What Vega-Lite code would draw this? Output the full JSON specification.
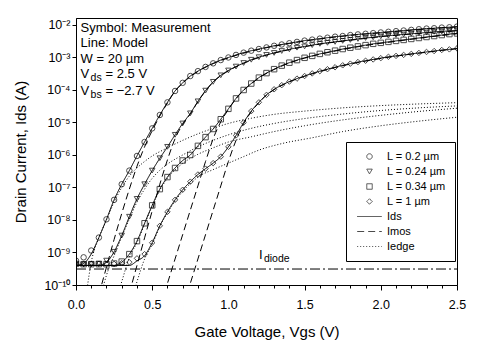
{
  "$schema": "https://vega.github.io/schema/vega-lite/v6.json",
  "autosize": {"type": "none"},
  "padding": {"left": 76, "top": 18, "right": 27, "bottom": 70},
  "width": 381,
  "height": 267,
  "datasets": {
    "meas": [
      {"L":"L = 0.2 µm","k":"Ids","v":0.00,"m":5.6e-10,"i":4.0e-10},
      {"L":"L = 0.2 µm","k":"Ids","v":0.05,"m":7.1e-10,"i":4.6e-10},
      {"L":"L = 0.2 µm","k":"Ids","v":0.10,"m":1.15e-9,"i":9.0e-10},
      {"L":"L = 0.2 µm","k":"Ids","v":0.15,"m":2.88e-9,"i":2.88e-9},
      {"L":"L = 0.2 µm","k":"Ids","v":0.20,"m":1.05e-8,"i":1.05e-8},
      {"L":"L = 0.2 µm","k":"Ids","v":0.25,"m":4.17e-8,"i":4.17e-8},
      {"L":"L = 0.2 µm","k":"Ids","v":0.30,"m":1.26e-7,"i":1.26e-7},
      {"L":"L = 0.2 µm","k":"Ids","v":0.35,"m":3.31e-7,"i":3.31e-7},
      {"L":"L = 0.2 µm","k":"Ids","v":0.40,"m":9.33e-7,"i":9.33e-7},
      {"L":"L = 0.2 µm","k":"Ids","v":0.45,"m":2.51e-6,"i":2.51e-6},
      {"L":"L = 0.2 µm","k":"Ids","v":0.50,"m":6.61e-6,"i":6.61e-6},
      {"L":"L = 0.2 µm","k":"Ids","v":0.55,"m":1.70e-5,"i":1.70e-5},
      {"L":"L = 0.2 µm","k":"Ids","v":0.60,"m":4.17e-5,"i":4.17e-5},
      {"L":"L = 0.2 µm","k":"Ids","v":0.65,"m":9.33e-5,"i":9.33e-5},
      {"L":"L = 0.2 µm","k":"Ids","v":0.70,"m":1.66e-4,"i":1.66e-4},
      {"L":"L = 0.2 µm","k":"Ids","v":0.75,"m":2.69e-4,"i":2.69e-4},
      {"L":"L = 0.2 µm","k":"Ids","v":0.80,"m":3.80e-4,"i":3.80e-4},
      {"L":"L = 0.2 µm","k":"Ids","v":0.85,"m":5.13e-4,"i":5.13e-4},
      {"L":"L = 0.2 µm","k":"Ids","v":0.90,"m":6.61e-4,"i":6.61e-4},
      {"L":"L = 0.2 µm","k":"Ids","v":0.95,"m":8.32e-4,"i":8.32e-4},
      {"L":"L = 0.2 µm","k":"Ids","v":1.00,"m":1.00e-3,"i":1.00e-3},
      {"L":"L = 0.2 µm","k":"Ids","v":1.05,"m":1.20e-3,"i":1.20e-3},
      {"L":"L = 0.2 µm","k":"Ids","v":1.10,"m":1.41e-3,"i":1.41e-3},
      {"L":"L = 0.2 µm","k":"Ids","v":1.15,"m":1.62e-3,"i":1.62e-3},
      {"L":"L = 0.2 µm","k":"Ids","v":1.20,"m":1.82e-3,"i":1.82e-3},
      {"L":"L = 0.2 µm","k":"Ids","v":1.25,"m":2.04e-3,"i":2.04e-3},
      {"L":"L = 0.2 µm","k":"Ids","v":1.30,"m":2.29e-3,"i":2.29e-3},
      {"L":"L = 0.2 µm","k":"Ids","v":1.35,"m":2.51e-3,"i":2.51e-3},
      {"L":"L = 0.2 µm","k":"Ids","v":1.40,"m":2.75e-3,"i":2.75e-3},
      {"L":"L = 0.2 µm","k":"Ids","v":1.45,"m":3.02e-3,"i":3.02e-3},
      {"L":"L = 0.2 µm","k":"Ids","v":1.50,"m":3.31e-3,"i":3.31e-3},
      {"L":"L = 0.2 µm","k":"Ids","v":1.55,"m":3.55e-3,"i":3.55e-3},
      {"L":"L = 0.2 µm","k":"Ids","v":1.60,"m":3.80e-3,"i":3.80e-3},
      {"L":"L = 0.2 µm","k":"Ids","v":1.65,"m":4.07e-3,"i":4.07e-3},
      {"L":"L = 0.2 µm","k":"Ids","v":1.70,"m":4.37e-3,"i":4.37e-3},
      {"L":"L = 0.2 µm","k":"Ids","v":1.75,"m":4.57e-3,"i":4.57e-3},
      {"L":"L = 0.2 µm","k":"Ids","v":1.80,"m":4.90e-3,"i":4.90e-3},
      {"L":"L = 0.2 µm","k":"Ids","v":1.85,"m":5.13e-3,"i":5.13e-3},
      {"L":"L = 0.2 µm","k":"Ids","v":1.90,"m":5.37e-3,"i":5.37e-3},
      {"L":"L = 0.2 µm","k":"Ids","v":1.95,"m":5.62e-3,"i":5.62e-3},
      {"L":"L = 0.2 µm","k":"Ids","v":2.00,"m":5.89e-3,"i":5.89e-3},
      {"L":"L = 0.2 µm","k":"Ids","v":2.05,"m":6.17e-3,"i":6.17e-3},
      {"L":"L = 0.2 µm","k":"Ids","v":2.10,"m":6.46e-3,"i":6.46e-3},
      {"L":"L = 0.2 µm","k":"Ids","v":2.15,"m":6.76e-3,"i":6.76e-3},
      {"L":"L = 0.2 µm","k":"Ids","v":2.20,"m":7.08e-3,"i":7.08e-3},
      {"L":"L = 0.2 µm","k":"Ids","v":2.25,"m":7.41e-3,"i":7.41e-3},
      {"L":"L = 0.2 µm","k":"Ids","v":2.30,"m":7.76e-3,"i":7.76e-3},
      {"L":"L = 0.2 µm","k":"Ids","v":2.35,"m":7.94e-3,"i":7.94e-3},
      {"L":"L = 0.2 µm","k":"Ids","v":2.40,"m":8.32e-3,"i":8.32e-3},
      {"L":"L = 0.2 µm","k":"Ids","v":2.45,"m":8.51e-3,"i":8.51e-3},
      {"L":"L = 0.2 µm","k":"Ids","v":2.50,"m":8.91e-3,"i":8.91e-3},

      {"L":"L = 0.24 µm","k":"Ids","v":0.00,"m":4.37e-10,"i":4.0e-10},
      {"L":"L = 0.24 µm","k":"Ids","v":0.05,"m":4.27e-10,"i":4.0e-10},
      {"L":"L = 0.24 µm","k":"Ids","v":0.10,"m":4.37e-10,"i":4.0e-10},
      {"L":"L = 0.24 µm","k":"Ids","v":0.15,"m":4.57e-10,"i":4.0e-10},
      {"L":"L = 0.24 µm","k":"Ids","v":0.20,"m":5.62e-10,"i":5.0e-10},
      {"L":"L = 0.24 µm","k":"Ids","v":0.25,"m":1.05e-9,"i":1.05e-9},
      {"L":"L = 0.24 µm","k":"Ids","v":0.30,"m":3.31e-9,"i":3.31e-9},
      {"L":"L = 0.24 µm","k":"Ids","v":0.35,"m":1.26e-8,"i":1.26e-8},
      {"L":"L = 0.24 µm","k":"Ids","v":0.40,"m":4.47e-8,"i":4.47e-8},
      {"L":"L = 0.24 µm","k":"Ids","v":0.45,"m":1.26e-7,"i":1.26e-7},
      {"L":"L = 0.24 µm","k":"Ids","v":0.50,"m":3.31e-7,"i":3.31e-7},
      {"L":"L = 0.24 µm","k":"Ids","v":0.55,"m":7.94e-7,"i":7.94e-7},
      {"L":"L = 0.24 µm","k":"Ids","v":0.60,"m":1.78e-6,"i":1.78e-6},
      {"L":"L = 0.24 µm","k":"Ids","v":0.65,"m":4.17e-6,"i":4.17e-6},
      {"L":"L = 0.24 µm","k":"Ids","v":0.70,"m":9.33e-6,"i":9.33e-6},
      {"L":"L = 0.24 µm","k":"Ids","v":0.75,"m":1.91e-5,"i":1.91e-5},
      {"L":"L = 0.24 µm","k":"Ids","v":0.80,"m":4.47e-5,"i":4.47e-5},
      {"L":"L = 0.24 µm","k":"Ids","v":0.85,"m":9.55e-5,"i":9.55e-5},
      {"L":"L = 0.24 µm","k":"Ids","v":0.90,"m":1.78e-4,"i":1.78e-4},
      {"L":"L = 0.24 µm","k":"Ids","v":0.95,"m":2.82e-4,"i":2.82e-4},
      {"L":"L = 0.24 µm","k":"Ids","v":1.00,"m":3.98e-4,"i":3.98e-4},
      {"L":"L = 0.24 µm","k":"Ids","v":1.05,"m":5.25e-4,"i":5.25e-4},
      {"L":"L = 0.24 µm","k":"Ids","v":1.10,"m":6.76e-4,"i":6.76e-4},
      {"L":"L = 0.24 µm","k":"Ids","v":1.15,"m":8.51e-4,"i":8.51e-4},
      {"L":"L = 0.24 µm","k":"Ids","v":1.20,"m":1.02e-3,"i":1.02e-3},
      {"L":"L = 0.24 µm","k":"Ids","v":1.25,"m":1.20e-3,"i":1.20e-3},
      {"L":"L = 0.24 µm","k":"Ids","v":1.30,"m":1.38e-3,"i":1.38e-3},
      {"L":"L = 0.24 µm","k":"Ids","v":1.35,"m":1.58e-3,"i":1.58e-3},
      {"L":"L = 0.24 µm","k":"Ids","v":1.40,"m":1.78e-3,"i":1.78e-3},
      {"L":"L = 0.24 µm","k":"Ids","v":1.45,"m":2.00e-3,"i":2.00e-3},
      {"L":"L = 0.24 µm","k":"Ids","v":1.50,"m":2.19e-3,"i":2.19e-3},
      {"L":"L = 0.24 µm","k":"Ids","v":1.55,"m":2.40e-3,"i":2.40e-3},
      {"L":"L = 0.24 µm","k":"Ids","v":1.60,"m":2.63e-3,"i":2.63e-3},
      {"L":"L = 0.24 µm","k":"Ids","v":1.65,"m":2.82e-3,"i":2.82e-3},
      {"L":"L = 0.24 µm","k":"Ids","v":1.70,"m":3.02e-3,"i":3.02e-3},
      {"L":"L = 0.24 µm","k":"Ids","v":1.75,"m":3.24e-3,"i":3.24e-3},
      {"L":"L = 0.24 µm","k":"Ids","v":1.80,"m":3.47e-3,"i":3.47e-3},
      {"L":"L = 0.24 µm","k":"Ids","v":1.85,"m":3.72e-3,"i":3.72e-3},
      {"L":"L = 0.24 µm","k":"Ids","v":1.90,"m":3.98e-3,"i":3.98e-3},
      {"L":"L = 0.24 µm","k":"Ids","v":1.95,"m":4.17e-3,"i":4.17e-3},
      {"L":"L = 0.24 µm","k":"Ids","v":2.00,"m":4.47e-3,"i":4.47e-3},
      {"L":"L = 0.24 µm","k":"Ids","v":2.05,"m":4.68e-3,"i":4.68e-3},
      {"L":"L = 0.24 µm","k":"Ids","v":2.10,"m":4.90e-3,"i":4.90e-3},
      {"L":"L = 0.24 µm","k":"Ids","v":2.15,"m":5.13e-3,"i":5.13e-3},
      {"L":"L = 0.24 µm","k":"Ids","v":2.20,"m":5.37e-3,"i":5.37e-3},
      {"L":"L = 0.24 µm","k":"Ids","v":2.25,"m":5.62e-3,"i":5.62e-3},
      {"L":"L = 0.24 µm","k":"Ids","v":2.30,"m":5.89e-3,"i":5.89e-3},
      {"L":"L = 0.24 µm","k":"Ids","v":2.35,"m":6.17e-3,"i":6.17e-3},
      {"L":"L = 0.24 µm","k":"Ids","v":2.40,"m":6.31e-3,"i":6.31e-3},
      {"L":"L = 0.24 µm","k":"Ids","v":2.45,"m":6.61e-3,"i":6.61e-3},
      {"L":"L = 0.24 µm","k":"Ids","v":2.50,"m":6.76e-3,"i":6.76e-3},

      {"L":"L = 0.34 µm","k":"Ids","v":0.00,"m":4.47e-10,"i":4.0e-10},
      {"L":"L = 0.34 µm","k":"Ids","v":0.05,"m":4.37e-10,"i":4.0e-10},
      {"L":"L = 0.34 µm","k":"Ids","v":0.10,"m":4.37e-10,"i":4.0e-10},
      {"L":"L = 0.34 µm","k":"Ids","v":0.15,"m":4.37e-10,"i":4.0e-10},
      {"L":"L = 0.34 µm","k":"Ids","v":0.20,"m":4.37e-10,"i":4.0e-10},
      {"L":"L = 0.34 µm","k":"Ids","v":0.25,"m":4.57e-10,"i":4.0e-10},
      {"L":"L = 0.34 µm","k":"Ids","v":0.30,"m":5.25e-10,"i":5.0e-10},
      {"L":"L = 0.34 µm","k":"Ids","v":0.35,"m":8.91e-10,"i":8.91e-10},
      {"L":"L = 0.34 µm","k":"Ids","v":0.40,"m":2.24e-9,"i":2.24e-9},
      {"L":"L = 0.34 µm","k":"Ids","v":0.45,"m":7.94e-9,"i":7.94e-9},
      {"L":"L = 0.34 µm","k":"Ids","v":0.50,"m":2.82e-8,"i":2.82e-8},
      {"L":"L = 0.34 µm","k":"Ids","v":0.55,"m":8.91e-8,"i":8.91e-8},
      {"L":"L = 0.34 µm","k":"Ids","v":0.60,"m":2.09e-7,"i":2.09e-7},
      {"L":"L = 0.34 µm","k":"Ids","v":0.65,"m":3.98e-7,"i":3.98e-7},
      {"L":"L = 0.34 µm","k":"Ids","v":0.70,"m":6.76e-7,"i":6.76e-7},
      {"L":"L = 0.34 µm","k":"Ids","v":0.75,"m":1.00e-6,"i":1.00e-6},
      {"L":"L = 0.34 µm","k":"Ids","v":0.80,"m":1.91e-6,"i":1.91e-6},
      {"L":"L = 0.34 µm","k":"Ids","v":0.85,"m":3.55e-6,"i":3.55e-6},
      {"L":"L = 0.34 µm","k":"Ids","v":0.90,"m":6.31e-6,"i":6.31e-6},
      {"L":"L = 0.34 µm","k":"Ids","v":0.95,"m":1.26e-5,"i":1.26e-5},
      {"L":"L = 0.34 µm","k":"Ids","v":1.00,"m":2.63e-5,"i":2.63e-5},
      {"L":"L = 0.34 µm","k":"Ids","v":1.05,"m":5.50e-5,"i":5.50e-5},
      {"L":"L = 0.34 µm","k":"Ids","v":1.10,"m":1.00e-4,"i":1.00e-4},
      {"L":"L = 0.34 µm","k":"Ids","v":1.15,"m":1.58e-4,"i":1.58e-4},
      {"L":"L = 0.34 µm","k":"Ids","v":1.20,"m":2.40e-4,"i":2.40e-4},
      {"L":"L = 0.34 µm","k":"Ids","v":1.25,"m":3.31e-4,"i":3.31e-4},
      {"L":"L = 0.34 µm","k":"Ids","v":1.30,"m":4.37e-4,"i":4.37e-4},
      {"L":"L = 0.34 µm","k":"Ids","v":1.35,"m":5.62e-4,"i":5.62e-4},
      {"L":"L = 0.34 µm","k":"Ids","v":1.40,"m":6.92e-4,"i":6.92e-4},
      {"L":"L = 0.34 µm","k":"Ids","v":1.45,"m":8.32e-4,"i":8.32e-4},
      {"L":"L = 0.34 µm","k":"Ids","v":1.50,"m":9.77e-4,"i":9.77e-4},
      {"L":"L = 0.34 µm","k":"Ids","v":1.55,"m":1.12e-3,"i":1.12e-3},
      {"L":"L = 0.34 µm","k":"Ids","v":1.60,"m":1.29e-3,"i":1.29e-3},
      {"L":"L = 0.34 µm","k":"Ids","v":1.65,"m":1.45e-3,"i":1.45e-3},
      {"L":"L = 0.34 µm","k":"Ids","v":1.70,"m":1.62e-3,"i":1.62e-3},
      {"L":"L = 0.34 µm","k":"Ids","v":1.75,"m":1.82e-3,"i":1.82e-3},
      {"L":"L = 0.34 µm","k":"Ids","v":1.80,"m":2.00e-3,"i":2.00e-3},
      {"L":"L = 0.34 µm","k":"Ids","v":1.85,"m":2.19e-3,"i":2.19e-3},
      {"L":"L = 0.34 µm","k":"Ids","v":1.90,"m":2.40e-3,"i":2.40e-3},
      {"L":"L = 0.34 µm","k":"Ids","v":1.95,"m":2.63e-3,"i":2.63e-3},
      {"L":"L = 0.34 µm","k":"Ids","v":2.00,"m":2.82e-3,"i":2.82e-3},
      {"L":"L = 0.34 µm","k":"Ids","v":2.05,"m":3.02e-3,"i":3.02e-3},
      {"L":"L = 0.34 µm","k":"Ids","v":2.10,"m":3.24e-3,"i":3.24e-3},
      {"L":"L = 0.34 µm","k":"Ids","v":2.15,"m":3.47e-3,"i":3.47e-3},
      {"L":"L = 0.34 µm","k":"Ids","v":2.20,"m":3.72e-3,"i":3.72e-3},
      {"L":"L = 0.34 µm","k":"Ids","v":2.25,"m":3.98e-3,"i":3.98e-3},
      {"L":"L = 0.34 µm","k":"Ids","v":2.30,"m":4.27e-3,"i":4.27e-3},
      {"L":"L = 0.34 µm","k":"Ids","v":2.35,"m":4.57e-3,"i":4.57e-3},
      {"L":"L = 0.34 µm","k":"Ids","v":2.40,"m":4.90e-3,"i":4.90e-3},
      {"L":"L = 0.34 µm","k":"Ids","v":2.45,"m":5.25e-3,"i":5.25e-3},
      {"L":"L = 0.34 µm","k":"Ids","v":2.50,"m":5.50e-3,"i":5.50e-3},

      {"L":"L = 1 µm","k":"Ids","v":0.00,"m":4.47e-10,"i":4.0e-10},
      {"L":"L = 1 µm","k":"Ids","v":0.05,"m":4.47e-10,"i":4.0e-10},
      {"L":"L = 1 µm","k":"Ids","v":0.10,"m":4.47e-10,"i":4.0e-10},
      {"L":"L = 1 µm","k":"Ids","v":0.15,"m":4.47e-10,"i":4.0e-10},
      {"L":"L = 1 µm","k":"Ids","v":0.20,"m":4.47e-10,"i":4.0e-10},
      {"L":"L = 1 µm","k":"Ids","v":0.25,"m":4.47e-10,"i":4.0e-10},
      {"L":"L = 1 µm","k":"Ids","v":0.30,"m":4.68e-10,"i":4.0e-10},
      {"L":"L = 1 µm","k":"Ids","v":0.35,"m":5.01e-10,"i":4.0e-10},
      {"L":"L = 1 µm","k":"Ids","v":0.40,"m":6.61e-10,"i":5.5e-10},
      {"L":"L = 1 µm","k":"Ids","v":0.45,"m":8.91e-10,"i":8.0e-10},
      {"L":"L = 1 µm","k":"Ids","v":0.50,"m":2.00e-9,"i":2.00e-9},
      {"L":"L = 1 µm","k":"Ids","v":0.55,"m":6.61e-9,"i":6.61e-9},
      {"L":"L = 1 µm","k":"Ids","v":0.60,"m":1.78e-8,"i":1.78e-8},
      {"L":"L = 1 µm","k":"Ids","v":0.65,"m":4.17e-8,"i":4.17e-8},
      {"L":"L = 1 µm","k":"Ids","v":0.70,"m":8.51e-8,"i":8.51e-8},
      {"L":"L = 1 µm","k":"Ids","v":0.75,"m":1.51e-7,"i":1.51e-7},
      {"L":"L = 1 µm","k":"Ids","v":0.80,"m":2.51e-7,"i":2.51e-7},
      {"L":"L = 1 µm","k":"Ids","v":0.85,"m":3.80e-7,"i":3.80e-7},
      {"L":"L = 1 µm","k":"Ids","v":0.90,"m":5.62e-7,"i":5.62e-7},
      {"L":"L = 1 µm","k":"Ids","v":0.95,"m":8.91e-7,"i":8.91e-7},
      {"L":"L = 1 µm","k":"Ids","v":1.00,"m":1.78e-6,"i":1.78e-6},
      {"L":"L = 1 µm","k":"Ids","v":1.05,"m":3.98e-6,"i":3.98e-6},
      {"L":"L = 1 µm","k":"Ids","v":1.10,"m":1.00e-5,"i":1.00e-5},
      {"L":"L = 1 µm","k":"Ids","v":1.15,"m":2.24e-5,"i":2.24e-5},
      {"L":"L = 1 µm","k":"Ids","v":1.20,"m":4.17e-5,"i":4.17e-5},
      {"L":"L = 1 µm","k":"Ids","v":1.25,"m":7.08e-5,"i":7.08e-5},
      {"L":"L = 1 µm","k":"Ids","v":1.30,"m":1.05e-4,"i":1.05e-4},
      {"L":"L = 1 µm","k":"Ids","v":1.35,"m":1.41e-4,"i":1.41e-4},
      {"L":"L = 1 µm","k":"Ids","v":1.40,"m":1.82e-4,"i":1.82e-4},
      {"L":"L = 1 µm","k":"Ids","v":1.45,"m":2.24e-4,"i":2.24e-4},
      {"L":"L = 1 µm","k":"Ids","v":1.50,"m":2.69e-4,"i":2.69e-4},
      {"L":"L = 1 µm","k":"Ids","v":1.55,"m":3.24e-4,"i":3.24e-4},
      {"L":"L = 1 µm","k":"Ids","v":1.60,"m":3.80e-4,"i":3.80e-4},
      {"L":"L = 1 µm","k":"Ids","v":1.65,"m":4.37e-4,"i":4.37e-4},
      {"L":"L = 1 µm","k":"Ids","v":1.70,"m":5.01e-4,"i":5.01e-4},
      {"L":"L = 1 µm","k":"Ids","v":1.75,"m":5.75e-4,"i":5.75e-4},
      {"L":"L = 1 µm","k":"Ids","v":1.80,"m":6.46e-4,"i":6.46e-4},
      {"L":"L = 1 µm","k":"Ids","v":1.85,"m":7.24e-4,"i":7.24e-4},
      {"L":"L = 1 µm","k":"Ids","v":1.90,"m":7.94e-4,"i":7.94e-4},
      {"L":"L = 1 µm","k":"Ids","v":1.95,"m":8.71e-4,"i":8.71e-4},
      {"L":"L = 1 µm","k":"Ids","v":2.00,"m":9.55e-4,"i":9.55e-4},
      {"L":"L = 1 µm","k":"Ids","v":2.05,"m":1.05e-3,"i":1.05e-3},
      {"L":"L = 1 µm","k":"Ids","v":2.10,"m":1.12e-3,"i":1.12e-3},
      {"L":"L = 1 µm","k":"Ids","v":2.15,"m":1.20e-3,"i":1.20e-3},
      {"L":"L = 1 µm","k":"Ids","v":2.20,"m":1.29e-3,"i":1.29e-3},
      {"L":"L = 1 µm","k":"Ids","v":2.25,"m":1.38e-3,"i":1.38e-3},
      {"L":"L = 1 µm","k":"Ids","v":2.30,"m":1.48e-3,"i":1.48e-3},
      {"L":"L = 1 µm","k":"Ids","v":2.35,"m":1.58e-3,"i":1.58e-3},
      {"L":"L = 1 µm","k":"Ids","v":2.40,"m":1.70e-3,"i":1.70e-3},
      {"L":"L = 1 µm","k":"Ids","v":2.45,"m":1.78e-3,"i":1.78e-3},
      {"L":"L = 1 µm","k":"Ids","v":2.50,"m":1.91e-3,"i":1.91e-3}
    ],
    "curves": [
      {"L":"0.2","k":"Imos","v":0.15,"i":5.0e-11},
      {"L":"0.2","k":"Imos","v":0.20,"i":3.55e-10},
      {"L":"0.2","k":"Imos","v":0.25,"i":2.51e-9},
      {"L":"0.2","k":"Imos","v":0.30,"i":1.58e-8},
      {"L":"0.2","k":"Imos","v":0.35,"i":8.91e-8},
      {"L":"0.2","k":"Imos","v":0.40,"i":4.47e-7},
      {"L":"0.2","k":"Imos","v":0.45,"i":1.78e-6},
      {"L":"0.2","k":"Imos","v":0.50,"i":5.62e-6},
      {"L":"0.2","k":"Imos","v":0.55,"i":1.58e-5},
      {"L":"0.2","k":"Imos","v":0.60,"i":3.98e-5},
      {"L":"0.2","k":"Imos","v":0.65,"i":9.12e-5},
      {"L":"0.2","k":"Imos","v":0.70,"i":1.62e-4},
      {"L":"0.2","k":"Imos","v":0.80,"i":3.72e-4},
      {"L":"0.2","k":"Imos","v":0.90,"i":6.46e-4},
      {"L":"0.2","k":"Imos","v":1.00,"i":9.77e-4},
      {"L":"0.2","k":"Imos","v":1.20,"i":1.78e-3},
      {"L":"0.2","k":"Imos","v":1.40,"i":2.69e-3},
      {"L":"0.2","k":"Imos","v":1.60,"i":3.72e-3},
      {"L":"0.2","k":"Imos","v":1.80,"i":4.79e-3},
      {"L":"0.2","k":"Imos","v":2.00,"i":5.75e-3},
      {"L":"0.2","k":"Imos","v":2.20,"i":6.92e-3},
      {"L":"0.2","k":"Imos","v":2.50,"i":8.71e-3},

      {"L":"0.24","k":"Imos","v":0.35,"i":5.6e-11},
      {"L":"0.24","k":"Imos","v":0.40,"i":3.98e-10},
      {"L":"0.24","k":"Imos","v":0.45,"i":2.82e-9},
      {"L":"0.24","k":"Imos","v":0.50,"i":1.91e-8},
      {"L":"0.24","k":"Imos","v":0.55,"i":1.26e-7},
      {"L":"0.24","k":"Imos","v":0.60,"i":7.08e-7},
      {"L":"0.24","k":"Imos","v":0.65,"i":3.16e-6},
      {"L":"0.24","k":"Imos","v":0.70,"i":8.71e-6},
      {"L":"0.24","k":"Imos","v":0.75,"i":1.82e-5},
      {"L":"0.24","k":"Imos","v":0.80,"i":4.37e-5},
      {"L":"0.24","k":"Imos","v":0.85,"i":9.33e-5},
      {"L":"0.24","k":"Imos","v":0.90,"i":1.74e-4},
      {"L":"0.24","k":"Imos","v":1.00,"i":3.89e-4},
      {"L":"0.24","k":"Imos","v":1.10,"i":6.61e-4},
      {"L":"0.24","k":"Imos","v":1.20,"i":1.0e-3},
      {"L":"0.24","k":"Imos","v":1.40,"i":1.74e-3},
      {"L":"0.24","k":"Imos","v":1.60,"i":2.57e-3},
      {"L":"0.24","k":"Imos","v":1.80,"i":3.39e-3},
      {"L":"0.24","k":"Imos","v":2.00,"i":4.37e-3},
      {"L":"0.24","k":"Imos","v":2.20,"i":5.25e-3},
      {"L":"0.24","k":"Imos","v":2.50,"i":6.61e-3},

      {"L":"0.34","k":"Imos","v":0.58,"i":5.6e-11},
      {"L":"0.34","k":"Imos","v":0.60,"i":1.12e-10},
      {"L":"0.34","k":"Imos","v":0.65,"i":6.31e-10},
      {"L":"0.34","k":"Imos","v":0.70,"i":3.55e-9},
      {"L":"0.34","k":"Imos","v":0.75,"i":2.0e-8},
      {"L":"0.34","k":"Imos","v":0.80,"i":1.12e-7},
      {"L":"0.34","k":"Imos","v":0.85,"i":6.31e-7},
      {"L":"0.34","k":"Imos","v":0.90,"i":3.16e-6},
      {"L":"0.34","k":"Imos","v":0.95,"i":1.05e-5},
      {"L":"0.34","k":"Imos","v":1.00,"i":2.51e-5},
      {"L":"0.34","k":"Imos","v":1.05,"i":5.37e-5},
      {"L":"0.34","k":"Imos","v":1.10,"i":9.77e-5},
      {"L":"0.34","k":"Imos","v":1.15,"i":1.55e-4},
      {"L":"0.34","k":"Imos","v":1.20,"i":2.34e-4},
      {"L":"0.34","k":"Imos","v":1.30,"i":4.27e-4},
      {"L":"0.34","k":"Imos","v":1.40,"i":6.76e-4},
      {"L":"0.34","k":"Imos","v":1.50,"i":9.55e-4},
      {"L":"0.34","k":"Imos","v":1.70,"i":1.58e-3},
      {"L":"0.34","k":"Imos","v":1.90,"i":2.34e-3},
      {"L":"0.34","k":"Imos","v":2.10,"i":3.16e-3},
      {"L":"0.34","k":"Imos","v":2.30,"i":4.17e-3},
      {"L":"0.34","k":"Imos","v":2.50,"i":5.37e-3},

      {"L":"1","k":"Imos","v":0.73,"i":5.6e-11},
      {"L":"1","k":"Imos","v":0.75,"i":1.12e-10},
      {"L":"1","k":"Imos","v":0.80,"i":6.31e-10},
      {"L":"1","k":"Imos","v":0.85,"i":3.55e-9},
      {"L":"1","k":"Imos","v":0.90,"i":2.0e-8},
      {"L":"1","k":"Imos","v":0.95,"i":1.12e-7},
      {"L":"1","k":"Imos","v":1.00,"i":6.31e-7},
      {"L":"1","k":"Imos","v":1.05,"i":2.82e-6},
      {"L":"1","k":"Imos","v":1.10,"i":9.12e-6},
      {"L":"1","k":"Imos","v":1.15,"i":2.14e-5},
      {"L":"1","k":"Imos","v":1.20,"i":4.07e-5},
      {"L":"1","k":"Imos","v":1.25,"i":6.92e-5},
      {"L":"1","k":"Imos","v":1.30,"i":1.02e-4},
      {"L":"1","k":"Imos","v":1.40,"i":1.78e-4},
      {"L":"1","k":"Imos","v":1.50,"i":2.63e-4},
      {"L":"1","k":"Imos","v":1.70,"i":4.90e-4},
      {"L":"1","k":"Imos","v":1.90,"i":7.76e-4},
      {"L":"1","k":"Imos","v":2.10,"i":1.10e-3},
      {"L":"1","k":"Imos","v":2.30,"i":1.45e-3},
      {"L":"1","k":"Imos","v":2.50,"i":1.86e-3},

      {"L":"0.2","k":"Iedge","v":0.07,"i":6.3e-11},
      {"L":"0.2","k":"Iedge","v":0.10,"i":5.0e-10},
      {"L":"0.2","k":"Iedge","v":0.15,"i":2.82e-9},
      {"L":"0.2","k":"Iedge","v":0.20,"i":1.0e-8},
      {"L":"0.2","k":"Iedge","v":0.25,"i":3.55e-8},
      {"L":"0.2","k":"Iedge","v":0.30,"i":1.0e-7},
      {"L":"0.2","k":"Iedge","v":0.35,"i":2.24e-7},
      {"L":"0.2","k":"Iedge","v":0.40,"i":3.98e-7},
      {"L":"0.2","k":"Iedge","v":0.45,"i":6.31e-7},
      {"L":"0.2","k":"Iedge","v":0.50,"i":9.33e-7},
      {"L":"0.2","k":"Iedge","v":0.60,"i":1.66e-6},
      {"L":"0.2","k":"Iedge","v":0.70,"i":2.82e-6},
      {"L":"0.2","k":"Iedge","v":0.80,"i":4.47e-6},
      {"L":"0.2","k":"Iedge","v":0.90,"i":6.61e-6},
      {"L":"0.2","k":"Iedge","v":1.00,"i":9.33e-6},
      {"L":"0.2","k":"Iedge","v":1.15,"i":1.35e-5},
      {"L":"0.2","k":"Iedge","v":1.30,"i":1.78e-5},
      {"L":"0.2","k":"Iedge","v":1.50,"i":2.24e-5},
      {"L":"0.2","k":"Iedge","v":1.75,"i":2.82e-5},
      {"L":"0.2","k":"Iedge","v":2.00,"i":3.31e-5},
      {"L":"0.2","k":"Iedge","v":2.25,"i":3.72e-5},
      {"L":"0.2","k":"Iedge","v":2.50,"i":4.07e-5},

      {"L":"0.24","k":"Iedge","v":0.17,"i":6.3e-11},
      {"L":"0.24","k":"Iedge","v":0.20,"i":2.0e-10},
      {"L":"0.24","k":"Iedge","v":0.25,"i":7.94e-10},
      {"L":"0.24","k":"Iedge","v":0.30,"i":3.02e-9},
      {"L":"0.24","k":"Iedge","v":0.35,"i":1.07e-8},
      {"L":"0.24","k":"Iedge","v":0.40,"i":3.55e-8},
      {"L":"0.24","k":"Iedge","v":0.45,"i":8.91e-8},
      {"L":"0.24","k":"Iedge","v":0.50,"i":1.91e-7},
      {"L":"0.24","k":"Iedge","v":0.55,"i":3.39e-7},
      {"L":"0.24","k":"Iedge","v":0.60,"i":5.25e-7},
      {"L":"0.24","k":"Iedge","v":0.70,"i":1.0e-6},
      {"L":"0.24","k":"Iedge","v":0.80,"i":1.78e-6},
      {"L":"0.24","k":"Iedge","v":0.90,"i":2.82e-6},
      {"L":"0.24","k":"Iedge","v":1.00,"i":4.17e-6},
      {"L":"0.24","k":"Iedge","v":1.15,"i":6.61e-6},
      {"L":"0.24","k":"Iedge","v":1.30,"i":9.33e-6},
      {"L":"0.24","k":"Iedge","v":1.50,"i":1.32e-5},
      {"L":"0.24","k":"Iedge","v":1.75,"i":1.82e-5},
      {"L":"0.24","k":"Iedge","v":2.00,"i":2.34e-5},
      {"L":"0.24","k":"Iedge","v":2.25,"i":2.82e-5},
      {"L":"0.24","k":"Iedge","v":2.50,"i":3.24e-5},

      {"L":"0.34","k":"Iedge","v":0.28,"i":6.3e-11},
      {"L":"0.34","k":"Iedge","v":0.30,"i":1.26e-10},
      {"L":"0.34","k":"Iedge","v":0.35,"i":7.08e-10},
      {"L":"0.34","k":"Iedge","v":0.40,"i":2.0e-9},
      {"L":"0.34","k":"Iedge","v":0.45,"i":7.41e-9},
      {"L":"0.34","k":"Iedge","v":0.50,"i":2.69e-8},
      {"L":"0.34","k":"Iedge","v":0.55,"i":8.32e-8},
      {"L":"0.34","k":"Iedge","v":0.60,"i":1.91e-7},
      {"L":"0.34","k":"Iedge","v":0.65,"i":3.47e-7},
      {"L":"0.34","k":"Iedge","v":0.70,"i":5.5e-7},
      {"L":"0.34","k":"Iedge","v":0.80,"i":1.05e-6},
      {"L":"0.34","k":"Iedge","v":0.90,"i":1.66e-6},
      {"L":"0.34","k":"Iedge","v":1.00,"i":2.51e-6},
      {"L":"0.34","k":"Iedge","v":1.15,"i":3.63e-6},
      {"L":"0.34","k":"Iedge","v":1.30,"i":5.25e-6},
      {"L":"0.34","k":"Iedge","v":1.50,"i":7.94e-6},
      {"L":"0.34","k":"Iedge","v":1.75,"i":1.20e-5},
      {"L":"0.34","k":"Iedge","v":2.00,"i":1.66e-5},
      {"L":"0.34","k":"Iedge","v":2.25,"i":2.19e-5},
      {"L":"0.34","k":"Iedge","v":2.50,"i":2.75e-5},

      {"L":"1","k":"Iedge","v":0.38,"i":6.3e-11},
      {"L":"1","k":"Iedge","v":0.40,"i":1.26e-10},
      {"L":"1","k":"Iedge","v":0.45,"i":6.31e-10},
      {"L":"1","k":"Iedge","v":0.50,"i":1.78e-9},
      {"L":"1","k":"Iedge","v":0.55,"i":6.31e-9},
      {"L":"1","k":"Iedge","v":0.60,"i":1.66e-8},
      {"L":"1","k":"Iedge","v":0.65,"i":3.80e-8},
      {"L":"1","k":"Iedge","v":0.70,"i":7.59e-8},
      {"L":"1","k":"Iedge","v":0.75,"i":1.32e-7},
      {"L":"1","k":"Iedge","v":0.80,"i":2.09e-7},
      {"L":"1","k":"Iedge","v":0.90,"i":3.55e-7},
      {"L":"1","k":"Iedge","v":1.00,"i":5.62e-7},
      {"L":"1","k":"Iedge","v":1.10,"i":8.91e-7},
      {"L":"1","k":"Iedge","v":1.20,"i":1.41e-6},
      {"L":"1","k":"Iedge","v":1.35,"i":2.24e-6},
      {"L":"1","k":"Iedge","v":1.55,"i":3.39e-6},
      {"L":"1","k":"Iedge","v":1.75,"i":5.25e-6},
      {"L":"1","k":"Iedge","v":2.00,"i":7.94e-6},
      {"L":"1","k":"Iedge","v":2.25,"i":1.10e-5},
      {"L":"1","k":"Iedge","v":2.50,"i":1.45e-5}
    ],
    "diode": [
      {"v":0.0,"i":3.1e-10},
      {"v":2.5,"i":3.1e-10}
    ],
    "notes": [
      {"t":"Symbol: Measurement","p":"main","v":0.03,"i":7.9e-3},
      {"t":"Line: Model","p":"main","v":0.03,"i":2.75e-3},
      {"t":"W = 20 µm","p":"main","v":0.03,"i":8.9e-4},
      {"t":"V","p":"main","v":0.03,"i":3.0e-4},
      {"t":"ds","p":"sub","v":0.03,"i":3.0e-4},
      {"t":"= 2.5 V","p":"rest","v":0.03,"i":3.0e-4},
      {"t":"V","p":"main","v":0.03,"i":9.5e-5},
      {"t":"bs","p":"sub","v":0.03,"i":9.5e-5},
      {"t":"= −2.7 V","p":"rest","v":0.03,"i":9.5e-5},
      {"t":"I","p":"main","v":1.2,"i":8.5e-10},
      {"t":"diode","p":"subI","v":1.2,"i":8.5e-10}
    ]
  },
  "encoding": {
    "x": {"field": "v", "type": "quantitative",
      "scale": {"domain": [0, 2.5], "nice": false, "zero": false},
      "axis": {
        "title": "Gate Voltage, Vgs (V)",
        "values": [0,0.1,0.2,0.3,0.4,0.5,0.6,0.7,0.8,0.9,1,1.1,1.2,1.3,1.4,1.5,1.6,1.7,1.8,1.9,2,2.1,2.2,2.3,2.4,2.5],
        "labelExpr": "abs(datum.value*2 - round(datum.value*2)) < 0.001 ? format(datum.value, '.1f') : ''",
        "tickSize": {"condition": {"test": "abs(datum.value*2 - round(datum.value*2)) < 0.001", "value": 5}, "value": 3},
        "labelOverlap": false, "labelFlush": false, "labelPadding": 8, "titlePadding": 14
      }
    },
    "y": {"field": "i", "type": "quantitative",
      "scale": {"type": "log", "domain": [1e-10, 0.0164], "nice": false},
      "axis": {
        "title": "Drain Current, Ids (A)",
        "values": [1e-10,1e-9,1e-8,1e-7,1e-6,1e-5,1e-4,1e-3,1e-2],
        "labelExpr": "'10' + ['⁻¹⁰','⁻⁹','⁻⁸','⁻⁷','⁻⁶','⁻⁵','⁻⁴','⁻³','⁻²'][round(log(datum.value)/LN10)+10]",
        "tickSize": 4, "labelPadding": 2, "titlePadding": 15, "labelFlush": false, "labelOverlap": false
      }
    }
  },
  "layer": [
    {
      "data": {"name": "diode"},
      "mark": {"type": "line", "color": "black", "strokeWidth": 1, "strokeDash": [10, 3, 2, 3]},
      "encoding": {}
    },
    {
      "data": {"name": "curves"},
      "mark": {"type": "line", "color": "black", "strokeWidth": 1, "clip": true, "interpolate": "monotone"},
      "encoding": {
        "strokeDash": {"field": "k", "type": "nominal",
          "scale": {"domain": ["L = 0.2 µm","L = 0.24 µm","L = 0.34 µm","L = 1 µm","Ids","Imos","Iedge"],
                    "range": [[1,0],[1,0],[1,0],[1,0],[1,0],[7,4],[1,2]]},
          "legend": {"title": null, "orient": "none", "legendX": 270, "legendY": 124}},
        "detail": {"field": "L"}
      }
    },
    {
      "data": {"name": "meas"},
      "mark": {"type": "line", "color": "black", "strokeWidth": 1, "clip": true, "interpolate": "monotone"},
      "encoding": {
        "strokeDash": {"field": "k", "type": "nominal",
          "scale": {"domain": ["L = 0.2 µm","L = 0.24 µm","L = 0.34 µm","L = 1 µm","Ids","Imos","Iedge"],
                    "range": [[1,0],[1,0],[1,0],[1,0],[1,0],[7,4],[1,2]]},
          "legend": {"title": null, "orient": "none", "legendX": 270, "legendY": 124}},
        "detail": {"field": "L"}
      }
    },
    {
      "data": {"name": "meas"},
      "mark": {"type": "point", "filled": false, "size": 30, "strokeWidth": 1, "color": "black", "clip": true},
      "encoding": {
        "y": {"field": "m", "type": "quantitative"},
        "shape": {"field": "L", "type": "nominal",
          "scale": {"domain": ["L = 0.2 µm","L = 0.24 µm","L = 0.34 µm","L = 1 µm","Ids","Imos","Iedge"],
                    "range": ["circle","triangle-down","square","diamond","M-4.5,0L4.5,0","M-4.5,0L4.5,0","M-4.5,0L4.5,0"]},
          "legend": {"title": null, "orient": "none", "legendX": 270, "legendY": 124}}
      }
    },
    {
      "data": {"name": "notes"},
      "transform": [{"filter": "datum.p == 'main'"}],
      "mark": {"type": "text", "align": "left", "baseline": "middle", "fontSize": 13, "fill": "black", "opacity": 1},
      "encoding": {"text": {"field": "t"}}
    },
    {
      "data": {"name": "notes"},
      "transform": [{"filter": "datum.p == 'sub'"}],
      "mark": {"type": "text", "align": "left", "baseline": "middle", "fontSize": 10.5, "dx": 10, "dy": 4, "fill": "black", "opacity": 1},
      "encoding": {"text": {"field": "t"}}
    },
    {
      "data": {"name": "notes"},
      "transform": [{"filter": "datum.p == 'subI'"}],
      "mark": {"type": "text", "align": "left", "baseline": "middle", "fontSize": 10.5, "dx": 5, "dy": 4, "fill": "black", "opacity": 1},
      "encoding": {"text": {"field": "t"}}
    },
    {
      "data": {"name": "notes"},
      "transform": [{"filter": "datum.p == 'rest'"}],
      "mark": {"type": "text", "align": "left", "baseline": "middle", "fontSize": 13, "dx": 25, "fill": "black", "opacity": 1},
      "encoding": {"text": {"field": "t"}}
    }
  ],
  "config": {
    "font": "Liberation Sans",
    "view": {"stroke": "black", "strokeWidth": 1},
    "axis": {"grid": false, "domainColor": "black", "tickColor": "black", "labelColor": "black", "titleColor": "black",
             "labelFont": "Liberation Sans", "titleFont": "Liberation Sans", "titleFontWeight": "normal",
             "labelFontSize": 12.5, "titleFontSize": 15},
    "legend": {"strokeColor": "black", "fillColor": "white", "padding": 9, "labelFont": "Liberation Sans",
               "labelFontSize": 11, "labelColor": "black", "symbolSize": 30, "symbolStrokeColor": "black",
               "symbolStrokeWidth": 1, "symbolOffset": 9, "labelOffset": 12, "rowPadding": 3}
  }
}
